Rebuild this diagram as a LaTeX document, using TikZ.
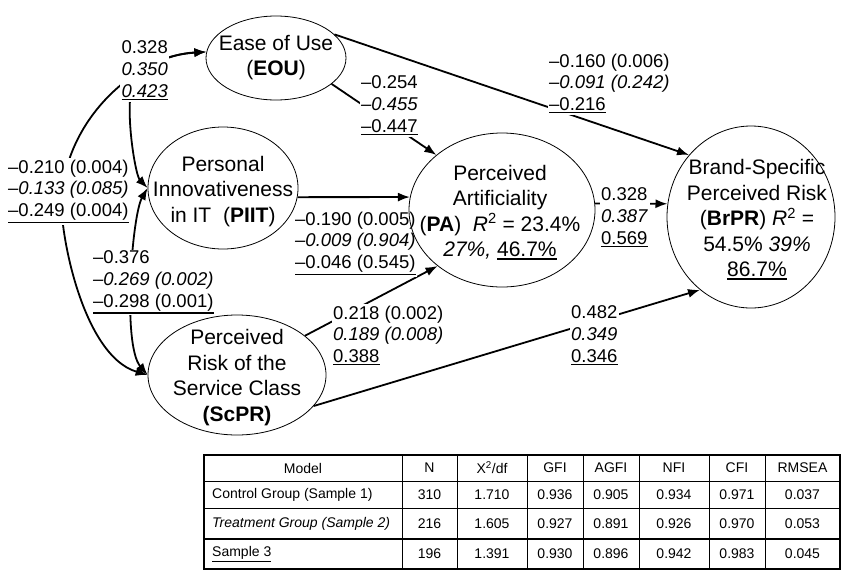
\documentclass[tikz,border=0pt]{standalone}
\usepackage{fontspec}
\setmainfont{Liberation Sans}
\usetikzlibrary{shapes.geometric,arrows.meta}
\pgfdeclarelayer{front}
\pgfsetlayers{main,front}
\newsavebox{\myulbox}
\newlength{\myuldp}
\newcommand{\myul}[1]{\sbox{\myulbox}{#1}\setlength{\myuldp}{\dp\myulbox}\addtolength{\myuldp}{2.8pt}\rlap{\rule[-\myuldp]{\wd\myulbox}{1.5pt}}\usebox{\myulbox}}
\tikzset{
  cons/.style={ellipse, draw, line width=0.8pt, inner sep=0pt},
  ctext/.style={align=center, font=\fontsize{21}{25.5}\selectfont, inner sep=0pt},
  coef/.style={fill=white, inner sep=1.5pt, font=\fontsize{18.5}{21.7}\selectfont},
  pth/.style={line width=1.8pt, -{Latex[length=12pt,width=9pt]}},
  cov/.style={line width=1.8pt, {Latex[length=12pt,width=9pt]}-{Latex[length=12pt,width=9pt]}},
  tcell/.style={font=\fontsize{14}{16}\selectfont, inner sep=0pt},
}
\begin{document}
\begin{tikzpicture}[x=1pt,y=-1pt]
\useasboundingbox[fill=white] (0,0) rectangle (842,571);

% constructs (on the front layer so that label boxes never hide their outlines)
\begin{pgfonlayer}{front}
\node[cons, minimum width=140pt, minimum height=84pt] (eou) at (276,58) {};
\node[cons, minimum width=150pt, minimum height=122pt] (piit) at (223,188) {};
\node[cons, minimum width=186pt, minimum height=154pt] (pa) at (502,210) {};
\node[cons, minimum width=168pt, minimum height=182pt] (brpr) at (751,217) {};
\node[cons, minimum width=178pt, minimum height=120pt] (scpr) at (237,375) {};

\node[ctext] (eoutxt) at (276,57.5) {Ease of Use\\(\textbf{EOU})};
\node[ctext] (piittxt) at (223,191.5) {Personal\\Innovativeness\\in IT~ (\textbf{PIIT})};
\node[ctext] (patxt) at (500,212.5) {Perceived\\Artificiality\\(\textbf{PA})~ \textit{R}\textsuperscript{2} = 23.4\%\\\textit{27\%,} \myul{46.7\%}};
\node[ctext] (brprtxt) at (757,219.5) {Brand-Specific\\Perceived Risk\\(\textbf{BrPR}) \textit{R}\textsuperscript{2} =\\54.5\% \textit{39\%}\\\myul{86.7\%}};
\node[ctext] (scprtxt) at (237,377.5) {Perceived\\Risk of the\\Service Class\\\textbf{(ScPR)}};
\end{pgfonlayer}

% structural paths
\draw[pth] (eou.-25) -- (pa.140);
\draw[pth] (eou.22) -- (brpr.135);
\draw[pth] (piit.-7) -- (pa.172);
\draw[pth] (pa.4) -- (brpr.171);
\draw[pth] (scpr.30) -- (pa.-139);

% correlations
\draw[cov] (piit.west) .. controls (136,176) and (128,130) .. (130,100)
  .. controls (132,70) and (160,55) .. (eou.175);
\draw[cov] (eou.175) .. controls (140,55) and (68,115) .. (62,195)
  .. controls (57.5,220) and (80,355) .. (scpr.west);
\draw[cov] (piit.west) .. controls (132,215) and (122,345) .. (scpr.west);

% coefficients
\node[coef, anchor=east, align=right] (l1) at (169.5,70.5) {0.328\\\textit{0.350}\\\myul{\textit{0.423}}};
\node[coef, anchor=west, align=left] (l2) at (6.5,191.5) {--0.210 (0.004)\\\textit{--0.133 (0.085)}\\\myul{--0.249 (0.004)}};
\node[coef, anchor=west, align=left] (l3) at (91.5,282.5) {--0.376\\\textit{--0.269 (0.002)}\\\myul{--0.298 (0.001)}};
\node[coef, anchor=west, align=left] (l4) at (359.5,105.5) {--0.254\\\textit{--0.455}\\\myul{--0.447}};
\node[coef, anchor=west, align=left] (l5) at (547.5,83.5) {--0.160 (0.006)\\\textit{--0.091 (0.242)}\\\myul{--0.216}};
\node[coef, anchor=west, align=left] (l6) at (293.5,243.5) {--0.190 (0.005)\\\textit{--0.009 (0.904)}\\\myul{--0.046 (0.545)}};
\node[coef, anchor=west, align=left] (l7) at (599.5,217.5) {0.328\\\textit{0.387}\\\myul{0.569}};
\node[coef, anchor=west, align=left] (l8) at (331.5,335.5) {0.218 (0.002)\\\textit{0.189 (0.008)}\\\myul{0.388}};

% ScPR -> BrPR drawn after the 0.218 label, before the 0.482 label
\draw[pth] (scpr.-22) -- (brpr.-125);
\node[coef, anchor=west, align=left] (l9) at (569.5,335.5) {0.482\\\textit{0.349}\\\myul{0.346}};

% fit table
\draw[line width=0.9pt] (204,481) -- (840,481) (204,508) -- (840,508);
\draw[line width=2pt] (204,539) -- (840,539);
\foreach \x in {402,457,527,583,639,709,765} \draw[line width=0.9pt] (\x,455) -- (\x,569);
\draw[line width=2.5pt] (204,455) rectangle (840,569);

\node[tcell] (h0) at (303,468) {Model};
\foreach \x/\t [count=\i] in {429.5/N, 492/{X\textsuperscript{2}/df}, 555/GFI, 611/AGFI, 674/NFI, 737/CFI, 802.5/RMSEA}
  \node[tcell] (h\i) at (\x,468) {\t};
\node[tcell, anchor=west] (a0) at (212,494.5) {Control Group (Sample 1)};
\foreach \x/\t [count=\i] in {429.5/310, 492/1.710, 555/0.936, 611/0.905, 674/0.934, 737/0.971, 802.5/0.037}
  \node[tcell] (a\i) at (\x,494.5) {\t};
\node[tcell, anchor=west] (b0) at (212,523.5) {\textit{Treatment Group (Sample 2)}};
\foreach \x/\t [count=\i] in {429.5/216, 492/1.605, 555/0.927, 611/0.891, 674/0.926, 737/0.970, 802.5/0.053}
  \node[tcell] (b\i) at (\x,523.5) {\t};
\node[tcell, anchor=west] (c0) at (212,554) {\underline{Sample 3}};
\foreach \x/\t [count=\i] in {429.5/196, 492/1.391, 555/0.930, 611/0.896, 674/0.942, 737/0.983, 802.5/0.045}
  \node[tcell] (c\i) at (\x,554) {\t};
\end{tikzpicture}
\end{document}
